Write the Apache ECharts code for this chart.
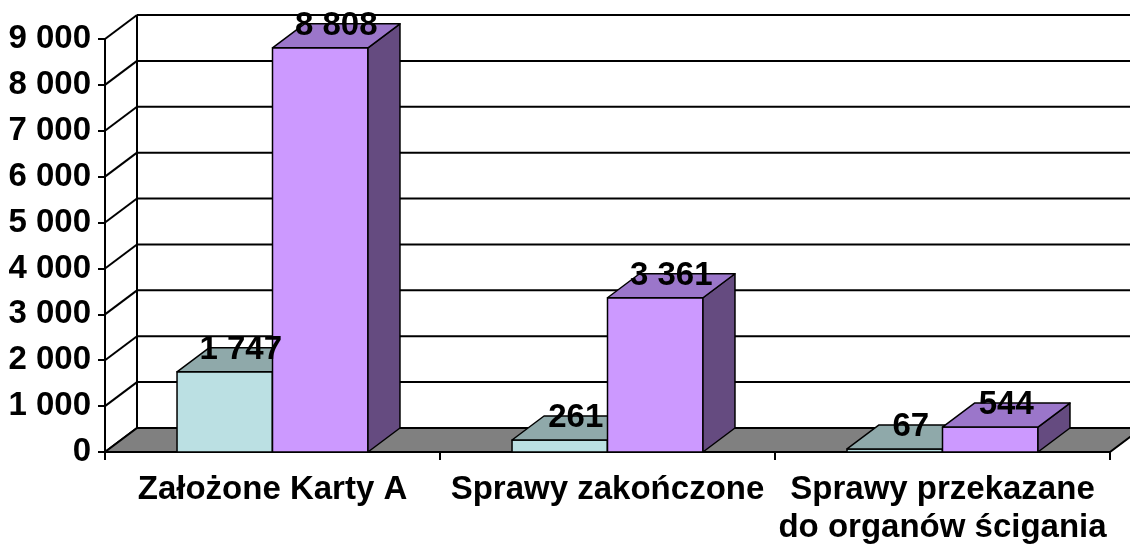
<!DOCTYPE html>
<html>
<head>
<meta charset="utf-8">
<script src="https://cdn.jsdelivr.net/npm/echarts@6/dist/echarts.min.js"></script>
<style>
html,body{margin:0;padding:0;background:#fff;}
#chart{width:1130px;height:552px;}
</style>
</head>
<body>
<div id="chart"></div>
<script>
var categories = ['Założone Karty A', 'Sprawy zakończone', 'Sprawy przekazane\ndo organów ścigania'];
var seriesA = [1747, 261, 67];
var seriesB = [8808, 3361, 544];
var yTicks = [0, 1000, 2000, 3000, 4000, 5000, 6000, 7000, 8000, 9000];

var DX = 32, DY = -24;
var FONT = '"Liberation Sans", Arial, sans-serif';
var FS = 33;
function fmt(v) { return String(v).replace(/\B(?=(\d{3})+(?!\d))/g, ' '); }

var colorsA = { front: '#BBE0E3', top: '#8FA9AA', side: '#6F8B8C' };
var colorsB = { front: '#CC99FF', top: '#9B76CA', side: '#654B80' };

function barRender(colors, isLeft) {
  return function (params, api) {
    var idx = api.value(0), val = api.value(1);
    var base = api.coord([idx, 0]);
    var topP = api.coord([idx, val]);
    var band = api.size([1, 0])[0];
    var bw = band * 0.285;
    var x0 = isLeft ? base[0] - bw : base[0];
    var yB = base[1], yT = topP[1];
    var st = { stroke: '#000', lineWidth: 1.5, lineJoin: 'round' };
    return {
      type: 'group',
      children: [
        { type: 'polygon', shape: { points: [[x0, yT], [x0 + bw, yT], [x0 + bw, yB], [x0, yB]] },
          style: Object.assign({ fill: colors.front }, st) },
        { type: 'polygon', shape: { points: [[x0 + bw, yT], [x0 + bw + DX, yT + DY], [x0 + bw + DX, yB + DY], [x0 + bw, yB]] },
          style: Object.assign({ fill: colors.side }, st) },
        { type: 'polygon', shape: { points: [[x0, yT], [x0 + DX, yT + DY], [x0 + bw + DX, yT + DY], [x0 + bw, yT]] },
          style: Object.assign({ fill: colors.top }, st) },
        { type: 'text', z2: 1000, style: { text: fmt(val), x: x0 + bw / 2 + DX / 2, y: yT + DY / 2 - 10,
          align: 'center', verticalAlign: 'middle', font: 'bold ' + FS + 'px ' + FONT, fill: '#000' } }
      ]
    };
  };
}

var chart = echarts.init(document.getElementById('chart'), null, { renderer: 'canvas' });
chart.setOption({
  animation: false,
  backgroundColor: '#fff',
  grid: { left: 105, top: 39, width: 1005, height: 413, containLabel: false },
  xAxis: {
    type: 'category', data: categories, boundaryGap: true,
    axisLine: { show: true, lineStyle: { color: '#000', width: 2 } },
    axisTick: { show: true, length: 8, lineStyle: { color: '#000', width: 2 } },
    axisLabel: { color: '#000', fontSize: FS, fontWeight: 'bold', fontFamily: FONT, margin: 19, lineHeight: 38, interval: 0 },
    splitLine: { show: false }
  },
  yAxis: {
    type: 'value', min: 0, max: 9000, interval: 1000,
    axisLine: { show: true, lineStyle: { color: '#000', width: 2 } },
    axisTick: { show: true, length: 7, lineStyle: { color: '#000', width: 2 } },
    axisLabel: { color: '#000', fontSize: FS, fontWeight: 'bold', fontFamily: FONT, margin: 14, formatter: fmt },
    splitLine: { show: false }
  },
  series: [
    {
      type: 'custom', z: 1, silent: true,
      data: yTicks.map(function (v) { return [0, v]; }),
      renderItem: function (params, api) {
        var cs = params.coordSys;
        var p = api.coord([0, api.value(1)]);
        var y = p[1];
        var ch = [
          { type: 'line', shape: { x1: cs.x + DX, y1: y + DY, x2: cs.x + cs.width + DX, y2: y + DY },
            style: { stroke: '#000', lineWidth: 2 } },
          { type: 'line', shape: { x1: cs.x, y1: y, x2: cs.x + DX, y2: y + DY },
            style: { stroke: '#000', lineWidth: 2 } }
        ];
        if (params.dataIndex === 0) {
          var t = api.coord([0, yTicks[yTicks.length - 1]]);
          ch.push({ type: 'line', shape: { x1: cs.x + DX, y1: y + DY, x2: cs.x + DX, y2: t[1] + DY },
            style: { stroke: '#000', lineWidth: 2 } });
        }
        return { type: 'group', children: ch };
      }
    },
    {
      type: 'custom', z: 2, silent: true,
      data: [[0, 0]],
      renderItem: function (params, api) {
        var cs = params.coordSys;
        var y = api.coord([0, 0])[1];
        return { type: 'polygon', shape: { points: [[cs.x, y], [cs.x + cs.width, y], [cs.x + cs.width + DX, y + DY], [cs.x + DX, y + DY]] },
          style: { fill: '#808080', stroke: '#000', lineWidth: 2 } };
      }
    },
    {
      type: 'custom', z: 3, silent: true,
      data: seriesA.map(function (v, i) { return [i, v]; }),
      renderItem: barRender(colorsA, true)
    },
    {
      type: 'custom', z: 3, silent: true,
      data: seriesB.map(function (v, i) { return [i, v]; }),
      renderItem: barRender(colorsB, false)
    }
  ]
});
</script>
</body>
</html>
